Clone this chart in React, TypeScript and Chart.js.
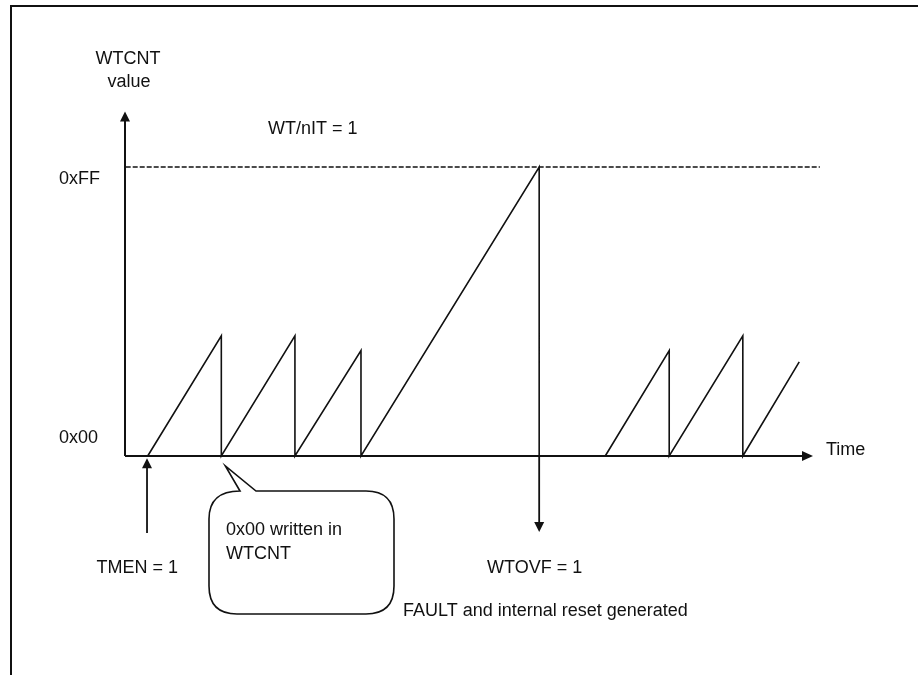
import React, { useEffect, useRef } from "react";
import { Chart, registerables } from "chart.js";

Chart.register(...registerables);

// ---- data (time in arbitrary units, counter value 0x00..0xFF) ----
const TIME_MIN = 0;
const TIME_MAX = 100; // end of time axis (arrow tip)
const COUNT_MIN = 0; // 0x00
const COUNT_MAX = 255; // 0xFF

const counterTime = [3.3, 14.0, 14.0, 24.7, 24.7, 34.3, 34.3, 60.2, 60.2, 65.0, 69.8, 79.1, 79.1, 89.8, 89.8, 98.0];
const counterValue = [0, 106, 0, 106, 0, 93, 0, 255, 0, null, 0, 93, 0, 106, 0, 83];

const limitTime = [0.1, 101];
const limitValue = [255, 255];

const yAxisTop = 304; // value at the y-axis arrow tip
const tmenTime = 3.2; // TMEN = 1 marker
const tmenArrowFrom = -68;
const tmenArrowTo = -2;
const overflowTime = 60.2; // WTOVF = 1 marker
const overflowArrowTo = -67;
const writeTime = 14.0; // 0x00 written

const yTickLabels = ["0x00", "0xFF"];
const axisTitleY = ["WTCNT", "value"];
const axisTitleX = "Time";
const modeLabel = "WT/nIT = 1";
const tmenLabel = "TMEN = 1";
const calloutLines = ["0x00 written in", "WTCNT"];
const overflowLabel = "WTOVF = 1";
const faultLabel = "FAULT and internal reset generated";

const FONT = '18px "Liberation Sans", Arial, sans-serif';
const INK = "#111";

function arrowHead(ctx: CanvasRenderingContext2D, tx: number, ty: number, dir: "up" | "down" | "right", len = 11, half = 5) {
  ctx.beginPath();
  if (dir === "up") {
    ctx.moveTo(tx, ty);
    ctx.lineTo(tx - half, ty + len);
    ctx.lineTo(tx + half, ty + len);
  } else if (dir === "down") {
    ctx.moveTo(tx, ty);
    ctx.lineTo(tx - half, ty - len);
    ctx.lineTo(tx + half, ty - len);
  } else {
    ctx.moveTo(tx, ty);
    ctx.lineTo(tx - len, ty - half);
    ctx.lineTo(tx - len, ty + half);
  }
  ctx.closePath();
  ctx.fill();
}

const diagramPlugin = {
  id: "diagram",
  afterDatasetsDraw(chart: any) {
    const ctx: CanvasRenderingContext2D = chart.ctx;
    const xs = chart.scales.x;
    const ys = chart.scales.y;
    const px = (v: number) => xs.getPixelForValue(v);
    const py = (v: number) => ys.getPixelForValue(v);
    ctx.save();
    ctx.strokeStyle = INK;
    ctx.fillStyle = INK;

    // frame
    ctx.lineWidth = 2;
    ctx.strokeRect(11, 6, 1200, 1200);

    // axes
    const x0 = px(TIME_MIN);
    const y0 = py(COUNT_MIN);
    ctx.lineWidth = 2;
    ctx.beginPath();
    ctx.moveTo(x0, y0);
    ctx.lineTo(x0, py(yAxisTop) + 8);
    ctx.moveTo(x0, y0);
    ctx.lineTo(px(TIME_MAX) - 8, y0);
    ctx.stroke();
    arrowHead(ctx, x0, py(yAxisTop), "up", 10, 5);
    arrowHead(ctx, px(TIME_MAX), y0, "right", 11, 5);

    // TMEN arrow
    ctx.lineWidth = 1.8;
    ctx.beginPath();
    ctx.moveTo(px(tmenTime), py(tmenArrowFrom));
    ctx.lineTo(px(tmenTime), py(tmenArrowTo) + 8);
    ctx.stroke();
    arrowHead(ctx, px(tmenTime), py(tmenArrowTo), "up", 10, 5);

    // overflow arrow
    ctx.beginPath();
    ctx.moveTo(px(overflowTime), y0);
    ctx.lineTo(px(overflowTime), py(overflowArrowTo) - 8);
    ctx.stroke();
    arrowHead(ctx, px(overflowTime), py(overflowArrowTo), "down", 10, 5);

    // callout
    const tipX = px(writeTime) + 4;
    const tipY = y0 + 10;
    const bl = 209, bt = 491, br = 394, bb = 614, r = 28;
    ctx.lineWidth = 1.6;
    ctx.beginPath();
    ctx.moveTo(240, bt);
    ctx.lineTo(tipX, tipY);
    ctx.lineTo(256, bt);
    ctx.lineTo(br - r, bt);
    ctx.quadraticCurveTo(br, bt, br, bt + r);
    ctx.lineTo(br, bb - r);
    ctx.quadraticCurveTo(br, bb, br - r, bb);
    ctx.lineTo(bl + r, bb);
    ctx.quadraticCurveTo(bl, bb, bl, bb - r);
    ctx.lineTo(bl, bt + r);
    ctx.quadraticCurveTo(bl, bt, bl + 31, bt);
    ctx.closePath();
    ctx.stroke();

    // texts
    ctx.font = FONT;
    ctx.textBaseline = "alphabetic";
    ctx.textAlign = "left";
    ctx.fillText(yTickLabels[0], 59, y0 - 13);
    ctx.fillText(yTickLabels[1], 59, py(COUNT_MAX) + 17);
    ctx.fillText(axisTitleX, px(TIME_MAX) + 13, y0 - 1);
    ctx.fillText(modeLabel, 268, 134);
    ctx.fillText(calloutLines[0], 226, 535);
    ctx.fillText(calloutLines[1], 226, 558.5);
    ctx.fillText(overflowLabel, 487, 573);
    ctx.fillText(faultLabel, 403, 615.5);
    ctx.textAlign = "right";
    ctx.fillText(tmenLabel, 178, 573);
    ctx.textAlign = "center";
    ctx.fillText(axisTitleY[0], 128, 63.5);
    ctx.fillText(axisTitleY[1], 129, 87);
    ctx.restore();
  },
};

export default function App() {
  const ref = useRef<HTMLCanvasElement | null>(null);
  useEffect(() => {
    if (!ref.current) return;
    const chart = new Chart(ref.current, {
      type: "scatter",
      data: {
        datasets: [
          {
            data: counterTime.map((t, i) => ({ x: t, y: counterValue[i] as any })),
            showLine: true,
            spanGaps: false,
            borderColor: INK,
            borderWidth: 1.6,
            pointRadius: 0,
            clip: false as any,
            tension: 0,
          },
          {
            data: limitTime.map((t, i) => ({ x: t, y: limitValue[i] })),
            showLine: true,
            borderColor: INK,
            borderWidth: 1.6,
            borderDash: [5, 2],
            pointRadius: 0,
            clip: false as any,
          },
        ],
      },
      options: {
        responsive: false,
        maintainAspectRatio: false,
        animation: false,
        layout: { padding: { left: 125, right: 105, top: 167, bottom: 219 } },
        scales: {
          x: { type: "linear", min: TIME_MIN, max: TIME_MAX, display: false },
          y: { type: "linear", min: COUNT_MIN, max: COUNT_MAX, display: false },
        },
        plugins: { legend: { display: false }, tooltip: { enabled: false } },
      },
      plugins: [diagramPlugin],
    });
    return () => chart.destroy();
  }, []);
  return (
    <div style={{ position: "fixed", left: 0, top: 0, width: 918, height: 675, background: "#fff" }}>
      <canvas ref={ref} width={918} height={675} style={{ display: "block", width: 918, height: 675 }} />
    </div>
  );
}
